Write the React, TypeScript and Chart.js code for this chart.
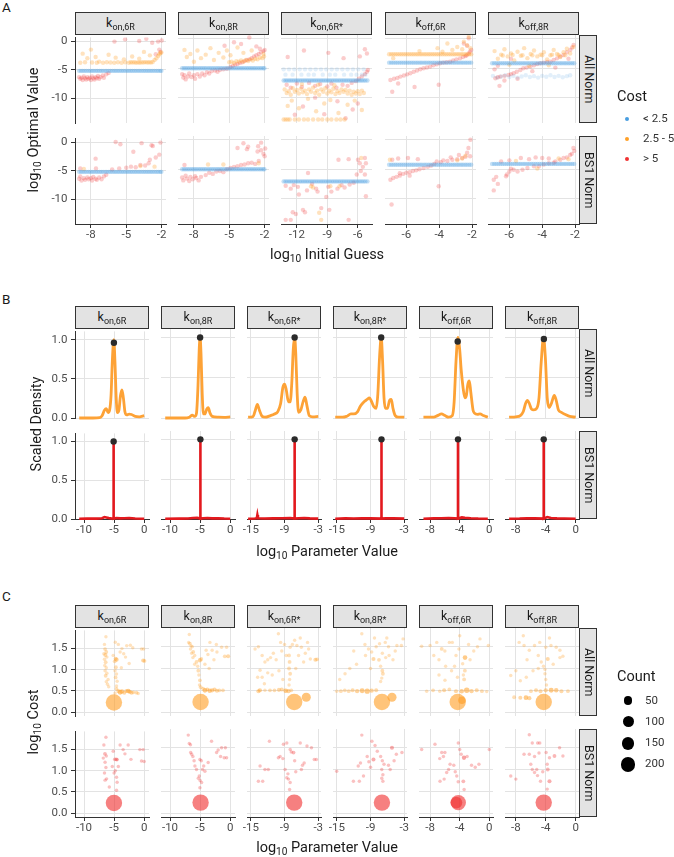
import React, { useEffect, useRef } from 'react';
import { Chart, registerables } from 'chart.js';

Chart.register(...registerables);

const FONT = 'Roboto, "Noto Sans", "DejaVu Sans", sans-serif';
const GRID = '#e3e3e3';
const AXIS = '#333333';
const TICK = '#4d4d4d';
const INK = '#1a1a1a';
const BLUE = '72,158,224';
const ORANGE = '255,160,40';
const RED = '240,50,50';
const B_ORANGE = '#FDA236';
const B_RED = '#E3191E';

// ---------------- labels ----------------
const FACETS_A = ['on,6R', 'on,8R', 'on,6R*', 'off,6R', 'off,8R'];
const FACETS_BC = ['on,6R', 'on,8R', 'on,6R*', 'on,8R*', 'off,6R', 'off,8R'];
const ROW_LABELS = ['All Norm', 'BS1 Norm'];
const COST_LEVELS = ['< 2.5', '2.5 - 5', '> 5'];
const COUNT_BREAKS = [50, 100, 150, 200];

// ---------------- ticks / ranges ----------------
const A_X_TICKS = [[-8, -5, -2], [-8, -5, -2], [-12, -9, -6], [-6, -4, -2], [-6, -4, -2]];
const A_X_RANGE = [[-9.35, -1.63], [-9.35, -1.63], [-13.56, -4.6], [-7.3, -1.76], [-7.3, -1.76]];
const A_Y_TICKS = [-10, -5, 0];
const A_Y_RANGE = [-14.3, 0.63];
const BC_X_TICKS = [[-10, -5, 0], [-10, -5, 0], [-15, -9, -3], [-15, -9, -3], [-8, -4, 0], [-8, -4, 0]];
const BC_X_RANGE = [[-11.5, 0.8], [-11.5, 0.8], [-15.7, -2.5], [-15.7, -2.5], [-9.5, 0.5], [-9.45, 0.45]];
const B_Y_TICKS = [0, 0.5, 1];
const B_Y_RANGE = [0, 1.105];
const C_Y_TICKS = [0, 0.5, 1, 1.5];
const C_Y_RANGE = [-0.09, 1.93];

// ---------------- panel A data ----------------
const atY = (y: number, xs: number[]) => xs.map((x) => [x, y]);

const GUESS_KON = [-9.0, -8.84, -8.69, -8.53, -8.38, -8.21, -8.06, -7.9, -7.75, -7.58, -7.43, -7.27, -7.12, -6.97, -6.8, -6.65, -6.49, -6.34, -6.18, -6.02, -5.87, -5.71, -5.56, -5.4, -5.25, -5.09, -4.93, -4.78, -4.62, -4.47, -4.31, -4.16, -4.0, -3.85, -3.69, -3.53, -3.38, -3.22, -3.07, -2.91, -2.76, -2.6, -2.44, -2.29, -2.13, -2.02];
const GUESS_KONS = [-13.3, -13.12, -12.95, -12.77, -12.6, -12.42, -12.25, -12.07, -11.9, -11.72, -11.55, -11.37, -11.2, -11.02, -10.85, -10.67, -10.5, -10.32, -10.15, -9.97, -9.8, -9.62, -9.45, -9.27, -9.1, -8.92, -8.75, -8.57, -8.4, -8.22, -8.05, -7.87, -7.7, -7.52, -7.35, -7.17, -7.0, -6.82, -6.65, -6.47, -6.3, -6.12, -5.95, -5.77, -5.6, -5.42, -5.25, -5.05];
const GUESS_KOFF = [-7.05, -6.92, -6.8, -6.67, -6.55, -6.42, -6.3, -6.17, -6.05, -5.92, -5.8, -5.67, -5.55, -5.42, -5.3, -5.17, -5.05, -4.92, -4.8, -4.67, -4.55, -4.42, -4.3, -4.17, -4.05, -3.92, -3.8, -3.67, -3.55, -3.42, -3.3, -3.17, -3.05, -2.92, -2.8, -2.67, -2.55, -2.42, -2.3, -2.17, -2.05];
const A_GUESSES = [GUESS_KON, GUESS_KON, GUESS_KONS, GUESS_KOFF, GUESS_KOFF];
const A_BLUE_ALL = [-5.2, -5.0, -7.1, -4.06, -4.17];
const A_BLUE_BS1 = [-5.2, -5.0, -7.07, -4.24, -4.1];

// kon,6R
const A_ALL_ORANGE_1 = [[-6.97, -3.8], [-6.65, -3.7], [-6.34, -3.75], [-6.02, -3.8], [-5.71, -3.7], [-5.4, -3.78], [-5.09, -3.72], [-4.78, -3.8], [-4.62, -3.7], [-4.47, -3.76], [-4.31, -3.7], [-4.16, -3.8], [-4.0, -3.72], [-3.85, -3.78], [-3.69, -3.7], [-3.53, -3.75], [-3.38, -3.68], [-3.22, -3.76], [-3.07, -3.7], [-2.91, -3.74], [-2.76, -3.66], [-2.6, -3.3], [-2.44, -3.0], [-2.29, -2.6], [-2.2, -2.3], [-2.1, -2.1], [-2.02, -2.0], [-8.7, -2.2], [-8.3, -3.0], [-8.0, -1.5], [-7.6, -2.8], [-8.9, -3.8], [-8.5, -3.7], [-7.3, -3.6], [-6.5, -2.4], [-5.9, -2.9], [-5.2, -3.2], [-4.5, -2.7], [-3.9, -3.1], [-3.5, -1.9], [-3.0, -2.5], [-7.9, -3.75], [-7.5, -3.8]];
const A_ALL_RED_1 = [[-9.0, -6.3], [-8.9, -6.6], [-8.8, -6.4], [-8.7, -6.8], [-8.6, -6.2], [-8.5, -6.5], [-8.4, -6.7], [-8.3, -6.3], [-8.2, -6.6], [-8.1, -6.4], [-8.0, -6.8], [-7.9, -6.2], [-7.8, -6.5], [-7.7, -6.7], [-7.6, -6.3], [-7.5, -6.5], [-7.4, -6.1], [-7.3, -6.6], [-7.2, -6.3], [-7.0, -6.0], [-6.9, -6.4], [-6.7, -5.8], [-6.5, -5.6], [-6.0, -0.1], [-5.1, 0.3], [-3.9, 0.0], [-3.3, 0.4], [-2.8, -0.3], [-2.3, -0.1], [-2.0, 0.1], [-2.2, -1.5], [-2.5, -2.3], [-2.1, -1.9]];
const A_BS1_ORANGE_1 = [[-8.6, -4.7], [-3.8, -4.2], [-2.6, -4.3]];
const A_BS1_RED_1 = [[-9.0, -6.4], [-8.9, -6.0], [-8.8, -6.7], [-8.6, -6.3], [-8.5, -6.6], [-8.3, -6.2], [-8.2, -6.5], [-8.0, -6.3], [-7.9, -6.7], [-7.8, -6.1], [-7.6, -6.4], [-7.5, -6.6], [-7.3, -6.2], [-7.1, -6.5], [-6.9, -6.0], [-6.7, -5.7], [-7.6, -2.9], [-7.57, -4.6], [-5.9, 0.0], [-5.5, -0.4], [-4.4, -1.7], [-3.7, -0.2], [-2.86, -0.56], [-2.75, -0.7], [-2.1, -0.1], [-3.0, -3.1], [-2.5, -2.7], [-2.2, -2.2], [-8.9, -4.6], [-6.2, -4.8], [-5.6, -4.6], [-5.0, -4.5], [-4.6, -4.3], [-4.2, -4.4], [-3.8, -4.0], [-3.4, -4.1], [-3.1, -3.7]];

// kon,8R
const A_ALL_ORANGE_2 = [[-5.0, -4.0], [-4.8, -3.9], [-4.6, -4.1], [-4.4, -3.8], [-4.2, -3.9], [-4.0, -3.7], [-3.8, -3.9], [-3.6, -3.6], [-3.4, -3.8], [-3.2, -3.5], [-3.0, -3.7], [-2.8, -3.4], [-2.6, -3.5], [-2.4, -3.2], [-2.2, -3.3], [-2.05, -3.0], [-2.1, -2.6], [-8.8, -1.9], [-8.6, -3.1], [-8.3, -2.6], [-8.0, -3.9], [-7.7, -2.0], [-7.4, -3.3], [-7.0, -2.7], [-6.6, -1.6], [-6.3, -3.6], [-5.9, -2.4], [-5.5, -3.2], [-5.2, -2.0], [-4.9, -2.8], [-4.3, -1.5], [-3.8, -2.4], [-3.1, -2.0]];
const A_ALL_RED_2 = [[-9.0, -6.0], [-8.9, -6.6], [-8.8, -6.2], [-8.7, -6.9], [-8.5, -6.4], [-8.4, -5.9], [-8.2, -6.5], [-8.0, -6.2], [-7.9, -6.8], [-7.7, -6.0], [-7.5, -6.4], [-7.3, -5.9], [-7.1, -6.2], [-6.9, -5.7], [-6.7, -5.9], [-6.5, -5.5], [-6.2, -5.4], [-6.0, -5.6], [-5.8, -5.3], [-5.5, -5.2], [-5.2, -5.1], [-4.9, -4.8], [-4.7, -4.6], [-4.5, -4.4], [-4.3, -4.3], [-4.1, -4.1], [-3.9, -4.0], [-3.7, -3.8], [-3.5, -3.6], [-3.3, -3.5], [-3.1, -3.3], [-2.9, -3.0], [-2.7, -2.8], [-2.5, -2.6], [-2.3, -2.3], [-2.1, -2.1], [-2.0, -1.9], [-4.6, -0.6], [-4.0, -0.9], [-2.7, -1.3], [-2.4, -1.7], [-5.4, -1.2], [-3.3, 0.2]];
const A_BS1_ORANGE_2 = [[-6.8, -4.2], [-5.5, -4.2], [-2.5, -4.0]];
const A_BS1_RED_2 = [[-9.0, -6.4], [-8.9, -6.9], [-8.7, -6.1], [-8.6, -6.6], [-8.4, -7.0], [-8.3, -6.3], [-8.1, -6.7], [-7.9, -6.2], [-7.8, -6.5], [-7.6, -6.9], [-7.4, -6.3], [-7.0, -6.0], [-6.7, -5.6], [-6.4, -5.8], [-6.1, -5.4], [-5.8, -5.3], [-5.5, -5.5], [-5.2, -5.0], [-4.9, -4.8], [-4.6, -4.6], [-4.3, -4.5], [-4.0, -4.3], [-3.7, -4.2], [-3.4, -4.0], [-3.1, -3.9], [-2.8, -4.1], [-2.5, -3.6], [-8.8, -4.3], [-4.3, -1.4], [-3.8, -0.6], [-3.5, -1.6], [-3.4, -1.2], [-2.55, -1.1], [-2.3, -0.5], [-2.3, -1.8], [-2.1, -2.4], [-2.0, -2.8], [-1.95, -1.5], [-2.6, -2.0]];

// kon,6R*
const A_ALL_BLUE_EXTRA_3 = [[-13.3, -5.2], [-12.77, -5.2], [-12.25, -5.2], [-11.72, -5.2], [-11.2, -5.2], [-10.67, -5.2], [-10.15, -5.2], [-9.62, -5.2], [-9.1, -5.2], [-8.57, -5.2], [-8.05, -5.2], [-7.52, -5.2], [-7.0, -5.2], [-6.47, -5.2], [-5.95, -5.2], [-5.42, -5.2], [-13.12, -6.1], [-12.42, -6.1], [-11.55, -6.1], [-10.85, -6.1], [-10.32, -6.1], [-9.45, -6.1], [-8.75, -6.1], [-8.22, -6.1], [-7.35, -6.1], [-6.65, -6.1], [-6.12, -6.1], [-5.6, -6.1], [-5.25, -6.1]];
const A_ALL_ORANGE_3 = [[-13.2, -8.6], [-13.0, -9.2], [-12.8, -8.9], [-12.6, -9.5], [-12.4, -8.4], [-12.2, -9.0], [-12.0, -8.7], [-11.8, -9.3], [-11.6, -8.5], [-11.4, -9.1], [-11.2, -8.8], [-11.0, -9.4], [-10.8, -8.6], [-10.6, -9.0], [-10.4, -8.3], [-10.2, -9.2], [-10.0, -8.8], [-9.8, -9.5], [-9.6, -8.6], [-9.4, -9.0], [-9.2, -8.4], [-9.0, -9.3], [-8.8, -8.8], [-8.6, -9.1], [-8.4, -8.5], [-8.2, -9.4], [-8.0, -8.9], [-7.8, -9.2], [-7.6, -8.6], [-7.4, -9.0], [-7.2, -8.7], [-7.0, -9.3], [-6.8, -8.8], [-6.6, -9.5], [-6.4, -9.0], [-6.2, -9.3], [-6.0, -8.9], [-5.8, -9.4], [-5.6, -8.8], [-5.4, -9.2], [-13.3, -13.7], [-13.1, -13.7], [-12.9, -13.7], [-12.7, -13.7], [-12.2, -13.7], [-11.8, -13.7], [-11.3, -13.7], [-10.9, -13.7], [-10.4, -13.7], [-9.9, -13.7], [-9.5, -13.7], [-9.0, -13.7], [-8.6, -13.7], [-8.1, -13.7], [-7.7, -13.7], [-7.3, -13.7], [-12.5, -10.5], [-11.8, -11.8], [-10.9, -10.2], [-10.1, -12.3], [-9.3, -11.0], [-8.7, -10.4], [-7.9, -12.6], [-7.0, -11.2], [-6.3, -10.5], [-5.6, -12.1], [-12.9, -11.4], [-9.9, -7.8], [-8.3, -7.9], [-11.5, -7.7]];
const A_ALL_RED_3 = [[-13.0, -7.8], [-12.6, -8.3], [-12.0, -7.6], [-11.5, -8.2], [-10.8, -7.5], [-10.2, -8.0], [-9.7, -7.7], [-9.0, -8.1], [-8.6, -7.6], [-8.1, -8.3], [-7.5, -7.8], [-7.0, -8.0], [-6.6, -7.5], [-6.2, -7.2], [-5.9, -6.8], [-5.6, -6.4], [-5.3, -6.0], [-5.1, -5.6], [-5.0, -5.3], [-12.9, -3.1], [-11.3, -2.0], [-8.9, -2.4], [-7.4, -3.3], [-5.8, -3.0], [-5.3, -1.8], [-5.1, -2.5], [-11.4, -11.5], [-10.2, -10.0], [-9.3, -12.8], [-8.0, -10.6], [-6.5, -12.0], [-12.2, -12.9], [-7.2, -13.5], [-6.0, -11.0]];
const A_BS1_ORANGE_3 = [[-10.6, -7.9], [-10.4, -8.1], [-8.7, -7.9], [-7.8, -7.9], [-9.8, -12.4], [-9.6, -13.6], [-5.66, -3.1]];
const A_BS1_RED_3 = [[-13.1, -7.8], [-12.6, -8.3], [-12.3, -7.7], [-11.9, -8.0], [-10.9, -5.65], [-11.8, -9.3], [-12.4, -12.3], [-12.1, -12.6], [-11.4, -11.9], [-11.2, -12.3], [-13.1, -13.6], [-12.6, -13.6], [-6.9, -13.6], [-9.6, -11.6], [-8.8, -11.9], [-9.96, -8.8], [-9.1, -9.7], [-8.9, -8.0], [-8.6, -8.8], [-8.0, -8.3], [-7.6, -7.7], [-7.3, -8.1], [-6.8, -7.6], [-7.9, -3.4], [-6.9, -3.3], [-6.1, -5.9], [-5.98, -3.4], [-5.8, -4.0], [-5.3, -3.1], [-5.2, -4.0], [-5.7, -5.3], [-5.3, -5.9], [-5.2, -9.6], [-10.5, -7.5], [-10.1, -8.3], [-11.0, -8.6], [-6.4, -7.3], [-5.5, -4.6]];

// koff,6R
const A_ALL_ORANGE_4 = [...atY(-2.64, GUESS_KOFF), [-3.5, -0.8], [-2.9, -1.4], [-2.5, -0.5], [-2.2, 0.3], [-2.3, -1.1], [-3.2, -1.9], [-4.1, -1.6], [-2.6, -1.8], [-2.1, -1.6], [-6.8, -3.3], [-5.2, -2.1], [-3.8, -2.2]];
const A_ALL_RED_4 = [[-6.97, -7.0], [-6.75, -6.8], [-6.55, -6.65], [-6.36, -6.43], [-6.15, -6.25], [-5.95, -6.05], [-5.76, -5.86], [-5.55, -5.6], [-5.35, -5.4], [-5.15, -5.18], [-4.95, -5.0], [-4.75, -4.88], [-4.55, -4.73], [-4.35, -4.5], [-4.15, -4.35], [-3.95, -4.17], [-3.75, -4.05], [-3.55, -4.0], [-3.34, -3.9], [-3.15, -3.7], [-2.95, -3.5], [-2.73, -3.33], [-2.55, -3.1], [-2.4, -2.95], [-2.33, -2.8], [-2.2, -2.5], [-2.13, -2.2], [-2.05, -1.9], [-2.2, 0.07], [-2.5, -0.8], [-6.86, -9.0], [-5.5, -8.2], [-4.03, -7.8], [-6.5, -7.6], [-2.3, -1.2]];
const A_BS1_ORANGE_4 = [[-7.0, -3.4], [-2.9, -3.5], [-2.6, -3.2], [-2.4, -2.7]];
const A_BS1_RED_4 = [[-6.97, -6.8], [-6.8, -6.5], [-6.6, -6.3], [-6.4, -6.1], [-6.2, -5.8], [-6.0, -5.6], [-5.8, -5.5], [-5.6, -5.3], [-5.4, -5.2], [-5.2, -5.0], [-4.95, -4.8], [-4.7, -4.6], [-4.5, -4.4], [-4.3, -4.1], [-4.15, -3.7], [-3.9, -3.8], [-3.75, -3.5], [-3.5, -3.6], [-3.2, -3.4], [-2.9, -3.3], [-2.6, -3.1], [-2.4, -2.9], [-2.12, -2.8], [-2.22, -1.4], [-2.1, 0.0], [-2.3, -2.2], [-6.86, -3.4], [-6.5, -3.2], [-5.9, -3.1], [-5.3, -3.3], [-6.9, -11.0], [-4.03, -7.9], [-6.4, -5.7], [-5.8, -6.1], [-3.3, -3.0], [-2.8, -2.6]];

// koff,8R
const A_ALL_BLUE_EXTRA_5 = [[-7.0, -6.3], [-6.75, -6.6], [-6.5, -6.4], [-6.25, -6.2], [-6.0, -6.5], [-5.75, -6.3], [-5.5, -6.6], [-5.25, -6.4], [-5.0, -6.2], [-4.75, -6.5], [-4.5, -6.35], [-4.25, -6.6], [-4.0, -6.3], [-3.75, -6.45], [-3.5, -6.2], [-3.25, -6.5], [-3.0, -6.3], [-2.75, -6.55], [-2.5, -6.35], [-2.3, -6.2]];
const A_ALL_ORANGE_5 = [[-6.9, -2.1], [-6.7, -3.4], [-6.5, -2.7], [-6.3, -1.8], [-6.1, -3.0], [-5.9, -2.5], [-5.7, -3.7], [-5.5, -2.2], [-5.3, -2.9], [-5.1, -1.6], [-4.9, -3.3], [-4.7, -2.6], [-4.5, -2.0], [-4.3, -3.0], [-4.1, -2.7], [-3.9, -2.3], [-3.7, -3.5], [-3.5, -2.8], [-3.3, -1.9], [-3.1, -2.6], [-2.9, -3.1], [-2.7, -2.3], [-2.5, -1.7], [-2.3, -2.5], [-2.1, -1.4], [-6.0, -4.4], [-4.8, -4.6], [-3.6, -4.5], [-2.6, -2.8], [-5.2, -2.8], [-6.4, -2.85], [-4.0, -2.8], [-3.0, -2.75], [-5.8, -2.75], [-4.6, -2.8], [-3.4, -2.7]];
const A_ALL_RED_5 = [[-6.85, -6.7], [-6.7, -6.55], [-6.55, -6.43], [-6.3, -6.3], [-6.05, -6.15], [-5.9, -6.0], [-5.74, -5.86], [-5.55, -5.6], [-5.33, -5.3], [-5.15, -5.0], [-4.95, -4.9], [-4.72, -4.73], [-4.5, -4.5], [-4.3, -4.3], [-4.11, -4.17], [-3.9, -4.05], [-3.7, -3.95], [-3.5, -3.9], [-3.3, -3.6], [-3.1, -3.33], [-2.9, -3.0], [-2.7, -2.76], [-2.5, -2.3], [-2.29, -1.9], [-2.18, -1.5], [-2.09, -1.07], [-6.6, -8.0], [-6.3, -7.1], [-6.9, -5.2], [-5.5, -6.8], [-4.6, -5.5], [-3.2, -4.9], [-2.4, -3.4], [-5.9, -3.4], [-6.7, -4.6]];
const A_BS1_ORANGE_5 = [[-5.6, -3.6], [-4.3, -4.9], [-3.0, -3.2], [-2.4, -3.3]];
const A_BS1_RED_5 = [[-6.95, -6.8], [-6.8, -6.3], [-6.95, -8.6], [-6.7, -7.5], [-6.15, -5.9], [-6.0, -5.4], [-5.74, -5.1], [-5.5, -5.4], [-5.2, -5.1], [-4.9, -4.8], [-4.5, -4.5], [-4.2, -4.5], [-3.9, -4.2], [-3.6, -4.0], [-3.2, -3.7], [-2.9, -3.4], [-2.7, -3.1], [-2.5, -3.0], [-2.3, -2.6], [-2.2, -2.4], [-2.1, -1.4], [-2.05, -1.9], [-6.5, -3.7], [-6.0, -3.5], [-5.3, -3.1], [-4.8, -3.3], [-4.4, -3.0], [-4.0, -3.1], [-3.6, -3.2], [-6.2, -6.2], [-5.9, -4.9], [-3.3, -3.9]];

const A_ALL_BLUE_EXTRA = [[], [], A_ALL_BLUE_EXTRA_3, [], A_ALL_BLUE_EXTRA_5];
const A_ALL_ORANGE = [A_ALL_ORANGE_1, A_ALL_ORANGE_2, A_ALL_ORANGE_3, A_ALL_ORANGE_4, A_ALL_ORANGE_5];
const A_ALL_RED = [A_ALL_RED_1, A_ALL_RED_2, A_ALL_RED_3, A_ALL_RED_4, A_ALL_RED_5];
const A_BS1_ORANGE = [A_BS1_ORANGE_1, A_BS1_ORANGE_2, A_BS1_ORANGE_3, A_BS1_ORANGE_4, A_BS1_ORANGE_5];
const A_BS1_RED = [A_BS1_RED_1, A_BS1_RED_2, A_BS1_RED_3, A_BS1_RED_4, A_BS1_RED_5];

// ---------------- panel B data ----------------
const B_ALL_1 = [[-10.8, 0.0], [-8.5, 0.0], [-7.4, 0.005], [-7.0, 0.03], [-6.6, 0.1], [-6.3, 0.12], [-6.0, 0.07], [-5.75, 0.1], [-5.5, 0.3], [-5.3, 0.72], [-5.05, 1.0], [-4.85, 0.7], [-4.65, 0.25], [-4.45, 0.07], [-4.2, 0.1], [-3.95, 0.28], [-3.7, 0.36], [-3.45, 0.25], [-3.2, 0.08], [-2.9, 0.04], [-2.5, 0.05], [-2.1, 0.045], [-1.5, 0.02], [-0.8, 0.015], [0.0, 0.03]];
const B_ALL_2 = [[-10.8, 0.0], [-7.5, 0.0], [-6.8, 0.01], [-6.3, 0.035], [-5.9, 0.02], [-5.6, 0.06], [-5.35, 0.4], [-5.15, 0.85], [-5.0, 1.0], [-4.85, 0.8], [-4.65, 0.3], [-4.45, 0.05], [-4.2, 0.05], [-3.9, 0.11], [-3.65, 0.13], [-3.35, 0.06], [-3.0, 0.02], [-2.0, 0.01], [-1.0, 0.008], [0.0, 0.015]];
const B_ALL_3 = [[-15.5, 0.01], [-14.6, 0.02], [-14.2, 0.1], [-13.85, 0.17], [-13.5, 0.1], [-13.0, 0.02], [-12.5, 0.01], [-11.5, 0.03], [-10.8, 0.05], [-10.2, 0.08], [-9.7, 0.18], [-9.3, 0.38], [-9.0, 0.42], [-8.7, 0.35], [-8.3, 0.2], [-8.0, 0.2], [-7.7, 0.45], [-7.45, 0.85], [-7.2, 1.0], [-7.0, 0.8], [-6.75, 0.3], [-6.5, 0.07], [-6.1, 0.1], [-5.7, 0.2], [-5.35, 0.26], [-5.0, 0.15], [-4.6, 0.03], [-4.0, 0.015], [-3.0, 0.02]];
const B_ALL_4 = [[-15.3, 0.01], [-14.0, 0.01], [-13.3, 0.02], [-12.5, 0.05], [-12.0, 0.05], [-11.3, 0.08], [-10.8, 0.15], [-10.2, 0.2], [-9.6, 0.23], [-9.2, 0.25], [-8.8, 0.2], [-8.4, 0.14], [-8.0, 0.12], [-7.7, 0.3], [-7.4, 0.75], [-7.1, 1.0], [-6.85, 0.7], [-6.6, 0.25], [-6.35, 0.12], [-6.0, 0.12], [-5.6, 0.22], [-5.3, 0.23], [-5.0, 0.12], [-4.6, 0.03], [-4.0, 0.01], [-3.0, 0.01]];
const B_ALL_5 = [[-8.9, 0.01], [-7.5, 0.01], [-7.0, 0.03], [-6.45, 0.05], [-6.0, 0.03], [-5.5, 0.01], [-5.0, 0.03], [-4.75, 0.2], [-4.5, 0.7], [-4.25, 1.0], [-4.0, 0.85], [-3.8, 0.6], [-3.55, 0.38], [-3.3, 0.25], [-3.1, 0.28], [-2.9, 0.42], [-2.7, 0.46], [-2.5, 0.32], [-2.2, 0.1], [-2.0, 0.06], [-1.6, 0.045], [-1.25, 0.05], [-0.8, 0.03], [-0.2, 0.01]];
const B_ALL_6 = [[-8.9, 0.01], [-8.0, 0.015], [-7.4, 0.03], [-7.0, 0.08], [-6.7, 0.18], [-6.45, 0.22], [-6.2, 0.18], [-5.9, 0.11], [-5.6, 0.1], [-5.2, 0.12], [-4.9, 0.25], [-4.6, 0.7], [-4.3, 1.0], [-4.05, 0.75], [-3.8, 0.25], [-3.55, 0.13], [-3.25, 0.18], [-2.85, 0.28], [-2.6, 0.22], [-2.3, 0.1], [-1.9, 0.07], [-1.3, 0.04], [-0.8, 0.02], [0.0, 0.01]];
const B_BS1_1 = [[-10.8, 0.004], [-9.5, 0.006], [-8.0, 0.005], [-7.0, 0.01], [-6.6, 0.025], [-6.3, 0.02], [-5.9, 0.012], [-5.5, 0.008], [-5.08, 0.005], [-5.08, 1.0], [-5.08, 0.005], [-4.6, 0.012], [-4.0, 0.008], [-3.3, 0.01], [-2.5, 0.012], [-1.5, 0.006], [0.0, 0.004]];
const B_BS1_2 = [[-10.8, 0.004], [-8.5, 0.005], [-7.0, 0.006], [-6.2, 0.012], [-5.5, 0.015], [-4.95, 0.005], [-4.95, 1.0], [-4.95, 0.005], [-4.5, 0.01], [-3.8, 0.012], [-3.0, 0.008], [-2.0, 0.01], [-1.0, 0.006], [0.0, 0.004]];
const B_BS1_3 = [[-15.5, 0.004], [-14.3, 0.006], [-13.95, 0.01], [-13.85, 0.05], [-13.75, 0.01], [-12.5, 0.006], [-11.0, 0.008], [-9.5, 0.01], [-8.0, 0.012], [-7.2, 0.005], [-7.2, 1.0], [-7.2, 0.005], [-6.5, 0.01], [-5.5, 0.012], [-4.5, 0.008], [-3.0, 0.005]];
const B_BS1_4 = [[-15.3, 0.004], [-13.5, 0.008], [-12.0, 0.006], [-10.5, 0.01], [-9.0, 0.008], [-7.05, 0.005], [-7.05, 1.0], [-7.05, 0.005], [-6.3, 0.008], [-5.0, 0.01], [-3.0, 0.005]];
const B_BS1_5 = [[-8.9, 0.004], [-7.5, 0.008], [-6.5, 0.01], [-5.5, 0.012], [-4.7, 0.01], [-4.23, 0.005], [-4.23, 1.0], [-4.23, 0.005], [-3.7, 0.02], [-3.3, 0.015], [-2.5, 0.01], [-1.5, 0.006], [-0.2, 0.004]];
const B_BS1_6 = [[-8.9, 0.004], [-7.5, 0.006], [-6.5, 0.01], [-5.5, 0.008], [-4.27, 0.005], [-4.27, 1.0], [-4.27, 0.005], [-3.8, 0.025], [-3.3, 0.012], [-2.5, 0.008], [-1.5, 0.006], [0.0, 0.004]];
const B_ALL = [B_ALL_1, B_ALL_2, B_ALL_3, B_ALL_4, B_ALL_5, B_ALL_6];
const B_BS1 = [B_BS1_1, B_BS1_2, B_BS1_3, B_BS1_4, B_BS1_5, B_BS1_6];
const B_DOT_ALL = [[-5.03, 0.96], [-5.0, 1.0], [-7.2, 1.0], [-7.1, 1.0], [-4.27, 0.95], [-4.25, 0.98]];
const B_DOT_BS1 = [[-5.08, 1.0], [-4.95, 1.0], [-7.2, 1.0], [-7.05, 1.0], [-4.23, 1.0], [-4.27, 1.0]];

// ---------------- panel C data: [x, log10 cost, count] ----------------
const C_ALL_1 = [[-5.03, 0.23, 270], [-6.36, 1.78, 1], [-6.6, 1.6, 1], [-6.5, 1.49, 2], [-6.3, 1.42, 2], [-6.7, 1.38, 1], [-6.45, 1.35, 3], [-6.2, 1.3, 1], [-6.6, 1.25, 1], [-6.4, 1.18, 2], [-6.55, 1.1, 1], [-6.3, 1.05, 1], [-6.5, 0.98, 1], [-6.2, 0.92, 1], [-6.4, 0.86, 2], [-6.0, 0.77, 1], [-6.3, 0.72, 1], [-6.1, 0.66, 1], [-5.9, 0.6, 1], [-5.15, 1.34, 1], [-4.75, 1.26, 3], [-4.6, 1.24, 4], [-4.9, 1.2, 2], [-4.7, 1.06, 2], [-4.85, 0.98, 1], [-4.6, 0.9, 1], [-4.75, 0.82, 2], [-4.5, 0.73, 1], [-4.6, 0.62, 1], [-4.8, 1.65, 1], [-4.3, 1.6, 1], [-2.9, 1.57, 1], [-2.3, 1.58, 1], [-1.9, 1.52, 1], [-0.45, 1.49, 1], [-0.1, 1.49, 1], [-0.17, 1.22, 3], [0.05, 1.21, 2], [-3.7, 1.5, 1], [-3.4, 1.38, 1], [-4.0, 1.42, 1], [-3.1, 1.3, 1], [-2.5, 1.15, 1], [-3.8, 1.05, 1], [-4.3, 0.5, 3], [-4.0, 0.47, 8], [-3.7, 0.49, 5], [-3.3, 0.46, 3], [-3.0, 0.5, 2], [-2.66, 0.5, 6], [-2.4, 0.48, 4], [-2.1, 0.46, 3], [-1.8, 0.47, 2], [-1.28, 0.46, 2], [-1.0, 0.44, 1], [-4.6, 0.55, 2], [-4.85, 0.45, 1]];
const C_BS1_1 = [[-5.03, 0.24, 270], [-6.36, 1.79, 1], [-6.7, 1.61, 1], [-6.52, 1.4, 2], [-6.3, 1.35, 1], [-6.8, 1.3, 1], [-6.5, 1.2, 1], [-6.36, 1.08, 1], [-6.6, 0.95, 1], [-6.25, 0.81, 1], [-6.5, 0.78, 1], [-5.8, 0.62, 1], [-5.15, 1.46, 1], [-4.87, 1.27, 2], [-4.6, 1.27, 2], [-4.5, 1.26, 1], [-4.8, 1.0, 1], [-5.0, 0.95, 1], [-4.6, 0.85, 1], [-4.5, 0.73, 1], [-4.6, 0.54, 1], [-4.0, 1.61, 1], [-2.66, 1.61, 1], [-3.5, 1.5, 1], [-3.2, 1.4, 1], [-2.2, 1.27, 1], [-0.72, 1.5, 1], [-0.17, 1.5, 1], [-0.45, 1.23, 1], [0.0, 1.22, 1], [-5.3, 1.1, 1], [-4.3, 1.1, 1]];
const C_ALL_2 = [[-4.92, 0.23, 270], [-6.8, 1.78, 1], [-6.9, 1.6, 1], [-6.7, 1.57, 2], [-6.5, 1.52, 1], [-6.3, 1.5, 1], [-6.6, 1.45, 1], [-6.14, 1.38, 2], [-6.4, 1.35, 1], [-5.9, 1.3, 1], [-6.2, 1.25, 1], [-5.6, 1.15, 2], [-5.9, 1.1, 1], [-5.4, 1.05, 1], [-5.3, 0.95, 2], [-5.2, 0.85, 1], [-5.03, 0.73, 2], [-5.1, 0.62, 1], [-5.03, 1.19, 4], [-4.8, 1.22, 2], [-3.37, 1.6, 1], [-2.3, 1.55, 1], [-1.43, 1.49, 1], [-0.6, 1.49, 1], [-3.0, 1.42, 1], [-2.2, 1.38, 1], [-0.34, 1.28, 3], [-0.9, 1.28, 2], [-4.0, 1.42, 1], [-3.7, 1.32, 1], [-4.2, 1.1, 1], [-3.5, 1.0, 1], [-2.7, 1.2, 1], [-4.5, 0.54, 2], [-4.2, 0.5, 6], [-3.8, 0.52, 3], [-3.4, 0.49, 5], [-3.0, 0.5, 4], [-2.6, 0.52, 3], [-2.2, 0.49, 3], [-1.8, 0.5, 2], [-1.2, 0.5, 2], [-4.9, 0.57, 2]];
const C_BS1_2 = [[-4.92, 0.24, 270], [-6.97, 1.79, 1], [-6.8, 1.6, 1], [-6.6, 1.57, 1], [-6.57, 1.39, 1], [-6.4, 1.35, 1], [-6.2, 1.3, 1], [-6.0, 1.2, 1], [-5.86, 1.08, 1], [-5.6, 1.0, 1], [-5.03, 1.23, 1], [-4.8, 1.2, 1], [-5.14, 0.85, 1], [-5.3, 0.8, 1], [-5.0, 0.75, 1], [-4.75, 0.7, 1], [-5.03, 0.58, 1], [-4.6, 1.0, 1], [-4.4, 1.08, 1], [-4.2, 0.96, 1], [-3.66, 1.16, 1], [-3.1, 1.65, 1], [-1.43, 1.5, 1], [-0.8, 1.5, 1], [-2.26, 1.39, 1], [-1.6, 1.3, 1], [-1.0, 1.27, 1], [-0.6, 1.27, 1], [-2.0, 1.45, 1]];
const C_ALL_3 = [[-7.28, 0.23, 270], [-5.13, 0.34, 60], [-13.67, 0.48, 3], [-13.4, 0.5, 4], [-12.5, 0.5, 1], [-11.6, 0.5, 2], [-10.8, 0.5, 2], [-10.0, 0.51, 3], [-9.5, 0.52, 3], [-8.8, 0.49, 6], [-8.3, 0.48, 4], [-7.8, 0.5, 2], [-14.26, 1.45, 1], [-13.67, 1.5, 1], [-13.0, 1.3, 1], [-12.5, 1.15, 1], [-13.37, 0.96, 1], [-13.8, 0.8, 1], [-13.0, 0.8, 1], [-12.0, 1.2, 1], [-11.5, 1.25, 1], [-11.0, 1.35, 1], [-10.5, 1.2, 1], [-12.0, 0.9, 1], [-11.2, 0.85, 1], [-12.6, 0.65, 1], [-10.1, 1.8, 1], [-9.5, 1.4, 1], [-9.0, 1.55, 1], [-8.7, 1.3, 1], [-8.0, 1.49, 1], [-7.6, 1.55, 1], [-6.8, 1.53, 1], [-6.0, 1.49, 1], [-4.71, 1.45, 1], [-8.2, 1.3, 2], [-8.1, 1.15, 2], [-8.2, 1.0, 2], [-8.0, 0.88, 2], [-8.1, 0.75, 1], [-8.2, 0.62, 1], [-4.4, 1.22, 1], [-3.5, 1.2, 3], [-3.2, 1.21, 2], [-6.5, 1.3, 1], [-5.6, 1.15, 1], [-7.0, 1.0, 1], [-10.0, 0.95, 1], [-9.3, 0.75, 1], [-6.2, 1.7, 1], [-9.7, 1.6, 1], [-7.2, 1.65, 1], [-5.3, 1.35, 1], [-4.9, 1.6, 1]];
const C_BS1_3 = [[-7.28, 0.24, 270], [-11.7, 1.65, 1], [-13.67, 0.73, 1], [-12.9, 0.73, 1], [-13.37, 1.08, 1], [-12.5, 1.0, 1], [-11.9, 1.0, 1], [-10.1, 1.27, 1], [-9.8, 1.3, 1], [-9.3, 1.25, 1], [-9.2, 1.58, 1], [-8.6, 1.61, 1], [-8.0, 1.46, 1], [-7.8, 1.4, 1], [-8.9, 1.0, 1], [-8.6, 0.81, 1], [-8.3, 0.78, 1], [-8.0, 0.7, 1], [-8.1, 0.54, 1], [-7.4, 1.39, 2], [-7.2, 1.2, 1], [-6.2, 1.61, 1], [-5.0, 1.54, 1], [-4.2, 1.5, 1], [-3.33, 1.23, 1], [-3.7, 1.23, 1], [-5.8, 1.1, 1], [-5.5, 1.15, 1], [-6.0, 1.0, 1], [-8.4, 0.9, 1], [-7.0, 0.95, 1]];
const C_ALL_4 = [[-6.97, 0.23, 270], [-5.18, 0.34, 60], [-15.04, 0.48, 1], [-14.3, 0.48, 2], [-13.6, 0.5, 2], [-12.9, 0.48, 2], [-12.2, 0.5, 3], [-11.4, 0.48, 4], [-10.5, 0.49, 8], [-9.6, 0.48, 10], [-8.8, 0.49, 4], [-8.0, 0.5, 3], [-10.56, 1.8, 1], [-10.0, 1.55, 1], [-9.37, 1.45, 1], [-8.8, 1.38, 1], [-8.48, 1.22, 3], [-8.0, 1.5, 1], [-7.4, 1.57, 1], [-6.38, 1.6, 1], [-5.8, 1.5, 1], [-4.3, 1.53, 1], [-3.5, 1.53, 1], [-3.2, 1.68, 1], [-6.9, 1.35, 1], [-6.3, 1.25, 1], [-5.7, 1.3, 1], [-7.5, 1.2, 2], [-7.2, 1.05, 1], [-6.9, 0.95, 2], [-6.8, 0.88, 2], [-7.0, 0.78, 1], [-7.2, 0.7, 1], [-13.55, 0.88, 1], [-14.5, 0.75, 1], [-12.7, 1.0, 1], [-11.5, 1.1, 1], [-9.0, 1.0, 1], [-5.0, 1.2, 1], [-4.6, 1.4, 1], [-9.9, 1.3, 1], [-8.3, 1.7, 1], [-12.0, 1.4, 1], [-6.1, 1.7, 1]];
const C_BS1_4 = [[-6.97, 0.24, 270], [-10.56, 1.79, 1], [-15.04, 0.96, 1], [-12.06, 0.73, 1], [-11.0, 0.73, 1], [-11.2, 1.08, 1], [-10.8, 1.15, 1], [-8.76, 1.65, 1], [-8.2, 1.55, 1], [-7.8, 1.42, 1], [-8.48, 1.23, 3], [-9.6, 1.3, 1], [-9.3, 1.18, 1], [-9.0, 1.05, 1], [-7.2, 1.3, 1], [-6.9, 1.2, 1], [-6.6, 1.12, 1], [-7.0, 1.0, 1], [-6.8, 0.88, 1], [-7.0, 0.8, 1], [-6.8, 0.73, 1], [-5.18, 1.5, 3], [-4.4, 1.35, 1], [-3.4, 1.39, 1], [-5.8, 1.1, 1], [-5.5, 1.0, 1], [-4.8, 1.2, 1], [-10.26, 0.85, 1]];
const C_ALL_5 = [[-4.27, 0.23, 270], [-3.7, 0.27, 35], [-8.46, 0.48, 1], [-7.6, 0.5, 2], [-6.7, 0.48, 1], [-6.1, 0.5, 3], [-5.4, 0.52, 2], [-4.5, 0.48, 3], [-3.73, 0.48, 5], [-3.05, 0.5, 12], [-2.4, 0.48, 4], [-1.7, 0.5, 3], [-1.0, 0.48, 2], [-0.35, 0.47, 1], [-3.6, 1.11, 1], [-3.3, 0.95, 2], [-3.5, 0.85, 1], [-3.4, 0.75, 2], [-3.28, 1.25, 6], [-9.14, 1.51, 1], [-8.0, 1.53, 1], [-7.1, 1.6, 1], [-6.43, 1.45, 2], [-6.0, 1.4, 1], [-5.4, 1.6, 1], [-5.0, 1.6, 1], [-4.5, 1.3, 1], [-4.1, 1.45, 1], [-2.1, 1.4, 1], [-1.6, 1.5, 1], [-1.26, 1.68, 1], [-0.13, 1.53, 1], [-6.8, 1.2, 1], [-5.9, 1.05, 1], [-6.8, 0.85, 1], [-5.99, 0.73, 1], [-5.1, 0.95, 1], [-4.7, 1.05, 1], [-4.3, 0.8, 1], [-2.6, 1.2, 1], [-4.0, 1.75, 1], [-7.5, 1.3, 1], [-2.8, 1.55, 1]];
const C_BS1_5 = [[-4.19, 0.24, 230], [-4.45, 0.24, 120], [-9.14, 1.46, 1], [-7.34, 1.58, 1], [-6.43, 1.39, 1], [-6.0, 1.39, 1], [-6.2, 1.3, 1], [-6.7, 1.25, 1], [-5.76, 0.93, 1], [-6.1, 0.78, 1], [-6.66, 0.73, 1], [-4.19, 1.61, 1], [-4.0, 1.46, 1], [-3.8, 1.35, 1], [-3.42, 1.27, 4], [-3.0, 1.3, 1], [-4.8, 1.1, 1], [-4.6, 0.95, 1], [-4.4, 0.85, 1], [-4.2, 0.72, 1], [-3.51, 0.73, 2], [-3.4, 0.54, 1], [-2.4, 1.1, 1], [-1.9, 1.05, 1], [-1.4, 1.12, 1], [0.0, 1.46, 1], [-5.3, 1.12, 1], [-5.5, 1.0, 1]];
const C_ALL_6 = [[-4.27, 0.23, 270], [-8.23, 0.34, 2], [-7.4, 0.33, 3], [-6.65, 0.33, 6], [-6.2, 0.32, 4], [-5.98, 0.48, 2], [-5.3, 0.5, 3], [-4.7, 0.48, 3], [-4.0, 0.5, 4], [-3.27, 0.5, 8], [-2.6, 0.5, 5], [-1.9, 0.48, 3], [-1.03, 0.48, 2], [-4.1, 0.88, 1], [-4.0, 0.75, 1], [-3.9, 0.62, 1], [-4.1, 0.98, 1], [-4.3, 1.05, 1], [-7.56, 1.6, 1], [-6.9, 1.53, 1], [-6.2, 1.42, 1], [-5.5, 1.53, 1], [-4.8, 1.6, 1], [-4.0, 1.49, 1], [-3.3, 1.53, 1], [-2.6, 1.49, 1], [-2.1, 1.42, 1], [-3.73, 1.22, 3], [-2.1, 1.25, 1], [-1.7, 1.28, 1], [-8.68, 0.84, 1], [-8.0, 0.95, 1], [-7.4, 0.72, 1], [-6.6, 0.8, 1], [-5.7, 0.95, 1], [-5.0, 1.0, 1], [-6.5, 1.2, 1], [-5.0, 1.3, 1], [-4.6, 1.15, 1], [-3.0, 1.1, 1], [-7.0, 1.75, 1], [-3.5, 1.7, 1]];
const C_BS1_6 = [[-4.27, 0.24, 270], [-6.2, 1.8, 1], [-5.8, 1.61, 1], [-5.08, 1.61, 1], [-4.8, 1.61, 1], [-6.9, 1.35, 1], [-6.2, 1.35, 1], [-5.5, 1.3, 1], [-4.9, 1.38, 1], [-8.68, 0.85, 1], [-8.0, 0.78, 1], [-5.8, 1.0, 1], [-5.5, 0.93, 1], [-5.1, 0.86, 1], [-4.7, 0.73, 1], [-3.95, 1.39, 1], [-3.5, 1.27, 1], [-2.83, 1.31, 2], [-2.15, 1.5, 1], [-1.7, 1.31, 1], [-3.73, 1.0, 2], [-3.5, 0.73, 3], [-3.8, 1.12, 1], [-6.0, 1.12, 1], [-5.2, 1.0, 1], [-4.4, 0.95, 1], [-3.8, 0.55, 1]];
const C_ALL = [C_ALL_1, C_ALL_2, C_ALL_3, C_ALL_4, C_ALL_5, C_ALL_6];
const C_BS1 = [C_BS1_1, C_BS1_2, C_BS1_3, C_BS1_4, C_BS1_5, C_BS1_6];

// ---------------- layout ----------------
const A_COLS = [75, 178, 281, 385, 488];
const A_W = 91;
const A_ROWS = [35, 136];
const A_H = [88, 88];
const BC_COLS = [75, 161, 247, 333, 419, 505];
const BC_W = 74;
const B_ROWS = [329, 431];
const B_H = [89, 88];
const C_ROWS = [628, 729];
const C_H = [88, 88];
const RIGHT = 579;

const PL = 44, PR = 12, PT = 8, PB = 24;

const rgba = (rgb: string, a: number) => `rgba(${rgb},${a})`;
const toPts = (arr: number[][]) => arr.map(([x, y]) => ({ x, y }));
const sizeOf = (c: number) => 1.3 + 0.42 * Math.sqrt(c);
const alphaOf = (c: number) => (c >= 20 ? 0.62 : Math.min(0.55, 0.25 + 0.05 * c));

type Spec = {
  key: string; type: string; left: number; top: number; w: number; h: number;
  xr: number[]; xt: number[]; yr: number[]; yt: number[]; yd: number;
  showY: boolean; showX: boolean; datasets: any[];
};

function scatterSet(arr: number[][], rgb: string, a: number, r: number) {
  return {
    data: toPts(arr), pointRadius: r, pointBackgroundColor: rgba(rgb, a),
    pointBorderWidth: 0, pointBorderColor: 'rgba(0,0,0,0)', showLine: false,
  };
}

function buildSpecs(): Spec[] {
  const specs: Spec[] = [];
  // Panel A
  for (let r = 0; r < 2; r++) {
    for (let c = 0; c < 5; c++) {
      const level = r === 0 ? A_BLUE_ALL[c] : A_BLUE_BS1[c];
      const blue = atY(level, A_GUESSES[c]);
      const blueExtra = r === 0 ? A_ALL_BLUE_EXTRA[c] : [];
      const orange = r === 0 ? A_ALL_ORANGE[c] : A_BS1_ORANGE[c];
      const red = r === 0 ? A_ALL_RED[c] : A_BS1_RED[c];
      specs.push({
        key: `A${r}${c}`, type: 'scatter', left: A_COLS[c], top: A_ROWS[r], w: A_W, h: A_H[r],
        xr: A_X_RANGE[c], xt: A_X_TICKS[c], yr: A_Y_RANGE, yt: A_Y_TICKS, yd: 0,
        showY: c === 0, showX: r === 1,
        datasets: [
          scatterSet(blue, BLUE, 0.33, 2.2),
          scatterSet(blueExtra, BLUE, 0.16, 2.2),
          scatterSet(orange, ORANGE, 0.3, 2.2),
          scatterSet(red, RED, 0.25, 2.2),
        ],
      });
    }
  }
  // Panel B
  for (let r = 0; r < 2; r++) {
    for (let c = 0; c < 6; c++) {
      const line = r === 0 ? B_ALL[c] : B_BS1[c];
      const dot = r === 0 ? B_DOT_ALL[c] : B_DOT_BS1[c];
      specs.push({
        key: `B${r}${c}`, type: 'line', left: BC_COLS[c], top: B_ROWS[r], w: BC_W, h: B_H[r],
        xr: BC_X_RANGE[c], xt: BC_X_TICKS[c], yr: B_Y_RANGE, yt: B_Y_TICKS, yd: 1,
        showY: c === 0, showX: r === 1,
        datasets: [
          { data: toPts([dot]), showLine: false, pointRadius: 3.2, pointBackgroundColor: '#2b2b2b', pointBorderWidth: 0, clip: false },
          r === 0
            ? { data: toPts(line), borderColor: B_ORANGE, borderWidth: 2.8, pointRadius: 0, cubicInterpolationMode: 'monotone', clip: false, borderJoinStyle: 'round' }
            : { data: toPts(line), borderColor: B_RED, borderWidth: 2.6, pointRadius: 0, tension: 0, clip: false },
        ],
      });
    }
  }
  // Panel C
  for (let r = 0; r < 2; r++) {
    for (let c = 0; c < 6; c++) {
      const arr = r === 0 ? C_ALL[c] : C_BS1[c];
      const rgb = r === 0 ? ORANGE : RED;
      specs.push({
        key: `C${r}${c}`, type: 'scatter', left: BC_COLS[c], top: C_ROWS[r], w: BC_W, h: C_H[r],
        xr: BC_X_RANGE[c], xt: BC_X_TICKS[c], yr: C_Y_RANGE, yt: C_Y_TICKS, yd: 1,
        showY: c === 0, showX: r === 1,
        datasets: [{
          data: arr.map(([x, y, n]) => ({ x, y, n })),
          pointRadius: (ctx: any) => sizeOf(ctx.raw ? ctx.raw.n : 1),
          pointBackgroundColor: (ctx: any) => rgba(rgb, alphaOf(ctx.raw ? ctx.raw.n : 1)),
          pointBorderWidth: 0, showLine: false,
        }],
      });
    }
  }
  return specs;
}

function Facet({ spec }: { spec: Spec }) {
  const ref = useRef<HTMLCanvasElement>(null);
  useEffect(() => {
    const s = spec;
    const tickFont = { family: FONT, size: 11.5 };
    const chart = new Chart(ref.current as HTMLCanvasElement, {
      type: s.type as any,
      data: { datasets: s.datasets },
      options: {
        animation: false, responsive: false, events: [],
        layout: { padding: { left: 0, right: PR, top: PT, bottom: 0 }, autoPadding: false },
        plugins: { legend: { display: false }, tooltip: { enabled: false } },
        scales: {
          x: {
            type: 'linear', position: 'bottom', min: s.xr[0], max: s.xr[1],
            afterFit: (sc: any) => { sc.height = PB; },
            afterBuildTicks: (sc: any) => { sc.ticks = s.xt.map((v) => ({ value: v })); },
            grid: { color: GRID, lineWidth: 1, drawTicks: s.showX, tickLength: 4, tickColor: AXIS, tickWidth: 1 },
            border: { display: s.showX, color: AXIS, width: 1 },
            ticks: {
              display: s.showX, autoSkip: false, maxRotation: 0, minRotation: 0, padding: 0.5,
              color: TICK, font: tickFont, callback: (v: any) => String(v),
            },
          },
          y: {
            type: 'linear', position: 'left', min: s.yr[0], max: s.yr[1],
            afterFit: (sc: any) => { sc.width = PL; },
            afterBuildTicks: (sc: any) => { sc.ticks = s.yt.map((v) => ({ value: v })); },
            grid: { color: GRID, lineWidth: 1, drawTicks: s.showY, tickLength: 4, tickColor: AXIS, tickWidth: 1 },
            border: { display: s.showY, color: AXIS, width: 1 },
            ticks: {
              display: s.showY, autoSkip: false, padding: 3.5, color: TICK, font: tickFont,
              callback: (v: any) => (s.yd ? Number(v).toFixed(s.yd) : String(v)),
            },
          },
        },
      },
    } as any);
    return () => chart.destroy();
  }, []);
  return (
    <canvas
      ref={ref}
      width={spec.w + PL + PR}
      height={spec.h + PT + PB}
      style={{ position: 'absolute', left: spec.left - PL, top: spec.top - PT, width: spec.w + PL + PR, height: spec.h + PT + PB }}
    />
  );
}

const Sub = ({ children }: { children: any }) => (
  <span style={{ fontSize: '0.7em', position: 'relative', top: '0.32em' }}>{children}</span>
);

function Txt({ x, y, size, children, color = INK, rot = 0, left = false }: any) {
  return (
    <div style={{
      position: 'absolute', left: x, top: y,
      transform: `translate(${left ? '0' : '-50%'},-50%) rotate(${rot}deg)`,
      fontFamily: FONT, fontSize: size, color, whiteSpace: 'nowrap', lineHeight: 1,
    }}>{children}</div>
  );
}

function Strip({ left, top, w, h, children, vertical = false }: any) {
  return (
    <div style={{
      position: 'absolute', left, top, width: w, height: h, boxSizing: 'border-box',
      background: '#E3E3E3', border: '1px solid #333', display: 'flex', alignItems: 'center',
      justifyContent: 'center', fontFamily: FONT, fontSize: 12.5, color: INK, overflow: 'visible',
    }}>
      <span style={{ whiteSpace: 'nowrap', transform: vertical ? 'rotate(90deg)' : 'none', display: 'inline-block', lineHeight: 1 }}>{children}</span>
    </div>
  );
}

const kLabel = (s: string) => (<span>k<span style={{ fontSize: '0.72em', position: 'relative', top: '0.3em' }}>{s}</span></span>);

export default function App() {
  const specs = buildSpecs();
  const stripH = 23;
  return (
    <div style={{ position: 'absolute', left: 0, top: 0, width: 674, height: 857, background: '#fff', overflow: 'hidden' }}>
      {specs.map((s) => <Facet key={s.key} spec={s} />)}

      {/* Panel letters */}
      <Txt x={2} y={8} size={13.5} left>A</Txt>
      <Txt x={2} y={300} size={13.5} left>B</Txt>
      <Txt x={2} y={597} size={13.5} left>C</Txt>

      {/* Strips A */}
      {FACETS_A.map((f, i) => <Strip key={'sa' + i} left={A_COLS[i]} top={A_ROWS[0] - stripH} w={A_W} h={stripH}>{kLabel(f)}</Strip>)}
      {ROW_LABELS.map((r, i) => <Strip key={'ra' + i} left={RIGHT} top={A_ROWS[i]} w={18} h={A_H[i]} vertical>{r}</Strip>)}
      {/* Strips B */}
      {FACETS_BC.map((f, i) => <Strip key={'sb' + i} left={BC_COLS[i]} top={B_ROWS[0] - stripH} w={BC_W} h={stripH}>{kLabel(f)}</Strip>)}
      {ROW_LABELS.map((r, i) => <Strip key={'rb' + i} left={RIGHT} top={B_ROWS[i]} w={18} h={B_H[i]} vertical>{r}</Strip>)}
      {/* Strips C */}
      {FACETS_BC.map((f, i) => <Strip key={'sc' + i} left={BC_COLS[i]} top={C_ROWS[0] - stripH} w={BC_W} h={stripH}>{kLabel(f)}</Strip>)}
      {ROW_LABELS.map((r, i) => <Strip key={'rc' + i} left={RIGHT} top={C_ROWS[i]} w={18} h={C_H[i]} vertical>{r}</Strip>)}

      {/* Axis titles */}
      <Txt x={327} y={255} size={14.5}>log<Sub>10</Sub> Initial Guess</Txt>
      <Txt x={34} y={130} size={14.5} rot={-90}>log<Sub>10</Sub> Optimal Value</Txt>
      <Txt x={327} y={552} size={14.5}>log<Sub>10</Sub> Parameter Value</Txt>
      <Txt x={37} y={424} size={14.5} rot={-90}>Scaled Density</Txt>
      <Txt x={327} y={848} size={14.5}>log<Sub>10</Sub> Parameter Value</Txt>
      <Txt x={34} y={722} size={14.5} rot={-90}>log<Sub>10</Sub> Cost</Txt>

      {/* Cost legend */}
      <Txt x={617} y={97} size={14.5} left>Cost</Txt>
      {COST_LEVELS.map((lab, i) => {
        const cy = 119 + i * 20;
        const col = [BLUE, ORANGE, RED][i];
        return (
          <React.Fragment key={'cl' + i}>
            <div style={{ position: 'absolute', left: 627 - 2.3, top: cy - 2.3, width: 4.6, height: 4.6, borderRadius: '50%', background: rgba(col, 1) }} />
            <Txt x={643} y={cy} size={11.5} color="#333" left>{lab}</Txt>
          </React.Fragment>
        );
      })}

      {/* Count legend */}
      <Txt x={617} y={677} size={14.5} left>Count</Txt>
      {COUNT_BREAKS.map((n, i) => {
        const cy = [700.7, 721.7, 743.3, 764.3][i];
        const r = sizeOf(n);
        return (
          <React.Fragment key={'nl' + i}>
            <div style={{ position: 'absolute', left: 628 - r, top: cy - r, width: 2 * r, height: 2 * r, borderRadius: '50%', background: '#000' }} />
            <Txt x={645} y={cy} size={11.5} color="#333" left>{String(n)}</Txt>
          </React.Fragment>
        );
      })}
    </div>
  );
}
